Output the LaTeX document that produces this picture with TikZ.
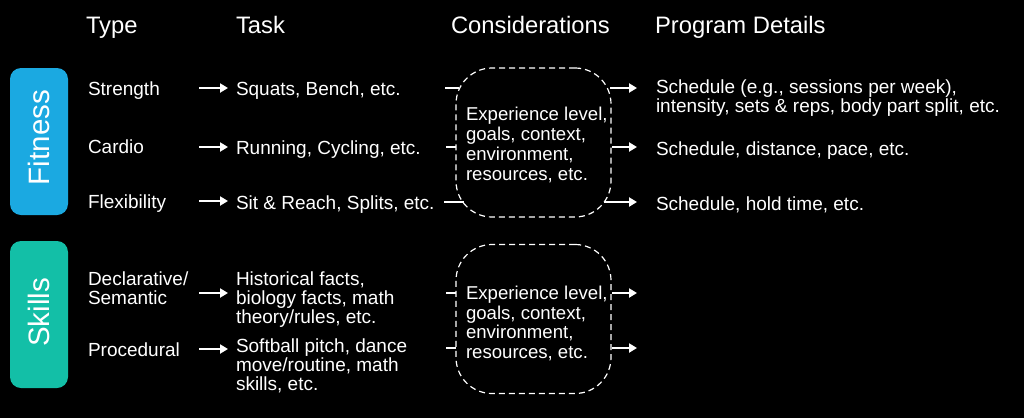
\documentclass[tikz,border=0pt]{standalone}
\usepackage{fontspec}
\setmainfont{Liberation Sans}
\usetikzlibrary{arrows.meta}
\definecolor{fitblue}{RGB}{27,169,225}
\definecolor{skillteal}{RGB}{19,191,167}
\begin{document}
\begin{tikzpicture}[x=1pt,y=-1pt,
  every node/.style={text=white,inner sep=0pt,outer sep=0pt},
  hdr/.style={anchor=base west,font=\fontsize{23.8}{26}\selectfont},
  lbl/.style={anchor=base west,align=left,font=\fontsize{19}{18.6}\selectfont},
  pill/.style={rounded corners=11pt,minimum width=58pt,minimum height=147pt,text=white},
  pilltext/.style={rotate=90,font=\fontsize{29.5}{31}\selectfont},
  cons/.style={draw=white,line width=1.2pt,dash pattern=on 6pt off 4pt,rounded corners=36pt,minimum width=155pt,minimum height=149pt},
  constext/.style={anchor=base west,align=left,font=\fontsize{18.6}{19.7}\selectfont},
  arr/.style={draw=white,line width=2.4pt,-{Triangle[length=8pt,width=9pt]}},
  tick/.style={draw=white,line width=2pt}
]
\useasboundingbox[fill=black] (0,0) rectangle (1024,418);

% headers
\node[hdr] (hType) at (86,33) {Type};
\node[hdr] (hTask) at (236,33) {Task};
\node[hdr] (hCons) at (451,33) {Considerations};
\node[hdr] (hProg) at (655,33) {Program Details};

% pills
\node[pill,fill=fitblue] (fit) at (39,141.5) {};
\node[pilltext] (fitT) at ([yshift=4pt]fit.center) {Fitness};
\node[pill,fill=skillteal] (sk) at (39,314.5) {};
\node[pilltext] (skT) at ([yshift=2pt]sk.center) {Skills};

% type labels
\node[lbl] (t1) at (88,95) {Strength};
\node[lbl] (t2) at (88,153) {Cardio};
\node[lbl] (t3) at (88,208) {Flexibility};
\node[lbl] (t4) at (88,304) {Declarative/\\Semantic};
\node[lbl] (t5) at (88,356) {Procedural};

% arrow starts/ends
\foreach \n/\y in {1/88,2/147,3/201,4/293,5/349}{
  \coordinate (as\n) at (199,\y);
  \coordinate (ae\n) at (228,\y);
}
\foreach \n in {1,...,5}{ \draw[arr] (as\n) -- (ae\n); }

% task labels
\node[lbl] (k1) at (236,95) {Squats, Bench, etc.};
\node[lbl] (k2) at (236,154) {Running, Cycling, etc.};
\node[lbl] (k3) at (236,209) {Sit \& Reach, Splits, etc.};
\node[lbl] (k4) at (236,323) {Historical facts,\\biology facts, math\\theory/rules, etc.};
\node[lbl] (k5) at (236,390) {Softball pitch, dance\\move/routine, math\\skills, etc.};

% consideration boxes
\node[cons] (c1) at (533.5,142.5) {};
\node[constext] (c1t) at (466,180) {Experience level,\\goals, context,\\environment,\\resources, etc.};
\node[cons] (c2) at (533.5,319) {};
\node[constext] (c2t) at (466,358.5) {Experience level,\\goals, context,\\environment,\\resources, etc.};

% input ticks
\coordinate (i1a) at (445,88);  \coordinate (i1b) at (459,88);
\coordinate (i2a) at (446,147); \coordinate (i2b) at (456,147);
\coordinate (i3a) at (444,202); \coordinate (i3b) at (464,202);
\coordinate (i4a) at (446,293); \coordinate (i4b) at (456,293);
\coordinate (i5a) at (446,348); \coordinate (i5b) at (456,348);
\foreach \n in {1,...,5}{ \draw[tick] (i\n a) -- (i\n b); }

% output arrows
\coordinate (o1a) at (610,88);  \coordinate (o1b) at (637,88);
\coordinate (o2a) at (612,147); \coordinate (o2b) at (637,147);
\coordinate (o3a) at (604,202); \coordinate (o3b) at (637,202);
\coordinate (o4a) at (612,293); \coordinate (o4b) at (637,293);
\coordinate (o5a) at (612,348); \coordinate (o5b) at (637,348);
\foreach \n in {1,...,5}{ \draw[arr] (o\n a) -- (o\n b); }

% program details
\node[lbl] (p1) at (656,112.5) {Schedule (e.g., sessions per week),\\intensity, sets \& reps, body part split, etc.};
\node[lbl] (p2) at (656,155) {Schedule, distance, pace, etc.};
\node[lbl] (p3) at (656,210) {Schedule, hold time, etc.};
\end{tikzpicture}
\end{document}
